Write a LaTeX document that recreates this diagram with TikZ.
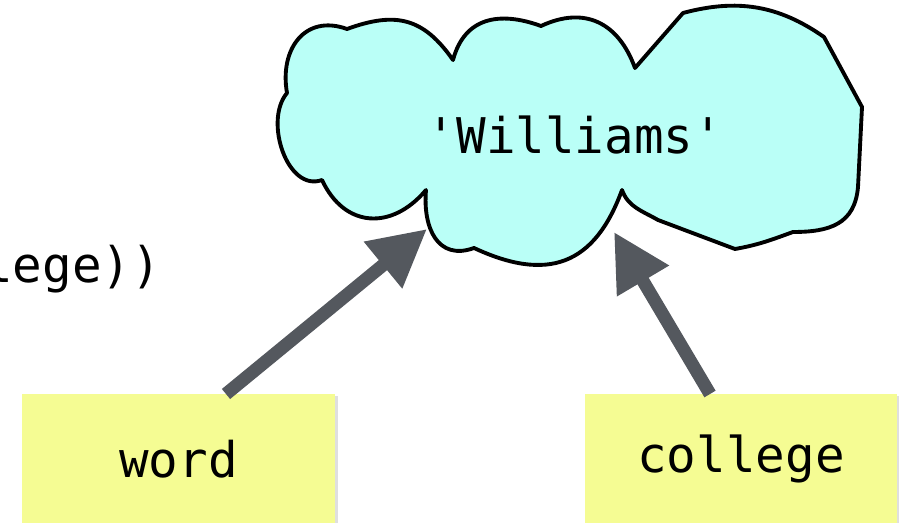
\documentclass[tikz,border=0pt]{standalone}
\usepackage{fontspec}
\setmonofont{DejaVu Sans Mono}
\usepackage{tikz}
\usetikzlibrary{
    arrows.meta,
    positioning,
    shadows
}
\definecolor{cloudcyan}{HTML}{BAFFF7}
\definecolor{boxyellow}{HTML}{F5FC93}
\definecolor{arrowgray}{HTML}{54585E}
\tikzstyle{varbox} = [
    rectangle,
    draw=none,
    fill=boxyellow,
    minimum width=6.26cm,
    minimum height=2.6cm,
    anchor=north,
    drop shadow={shadow xshift=1.5pt, shadow yshift=-1pt, opacity=0.25},
    font=\fontsize{28}{33}\selectfont\ttfamily
]
\tikzstyle{valuetext} = [
    inner sep=0pt,
    font=\fontsize{28}{33}\selectfont\ttfamily
]
\tikzstyle{cloudline} = [
    draw=black,
    line width=2.2pt,
    fill=cloudcyan,
    line join=round
]
\tikzstyle{pointer} = [
    -{Triangle[length=1.14cm, width=1.14cm]},
    line width=0.26cm,
    draw=arrowgray,
    color=arrowgray
]
\begin{document}
\begin{tikzpicture}[x=0.02cm, y=0.02cm]
        \useasboundingbox (0,0) rectangle (899,-523);

        % Cut-off code line
        \node[valuetext, anchor=base west] (code) at (-17,-283) {lege))};

        % Value cloud
        \path[cloudline] (322,-180)
            to[out=200, in=230] (287,-93)
            to[out=100, in=160, looseness=1.3] (347,-29)
            to[out=20, in=125, looseness=1.2] (453,-60)
            to[out=75, in=160, looseness=1.2] (541,-26)
            to[out=25, in=110, looseness=1.2] (635,-68)
            -- (683,-13)
            to[out=15, in=145] (824,-37)
            -- (862,-107)
            -- (858,-187)
            to[out=-95, in=0, looseness=1.2] (793,-232)
            to[out=200, in=10] (735,-249)
            -- (658,-220)
            to[out=150, in=-70] (622,-190)
            to[out=250, in=-25, looseness=1.3] (474,-248)
            to[out=200, in=265, looseness=1.3] (426,-190)
            to[out=230, in=295, looseness=1.3] (322,-180)
            -- cycle;
        \node[valuetext] (williams) at (575,-135) {'Williams'};
        \coordinate (notchL) at (427,-229);
        \coordinate (notchR) at (614,-232);

        % Variable boxes
        \node[varbox] (word) at (178.5,-394) {word};
        \node[varbox] (college) at (741,-394) {college};

        % Arrows
        \draw[pointer] ([xshift=0.95cm]word.north) -- (notchL);
        \draw[pointer] ([xshift=-0.62cm]college.north) -- (notchR);
    \end{tikzpicture}
\end{document}
